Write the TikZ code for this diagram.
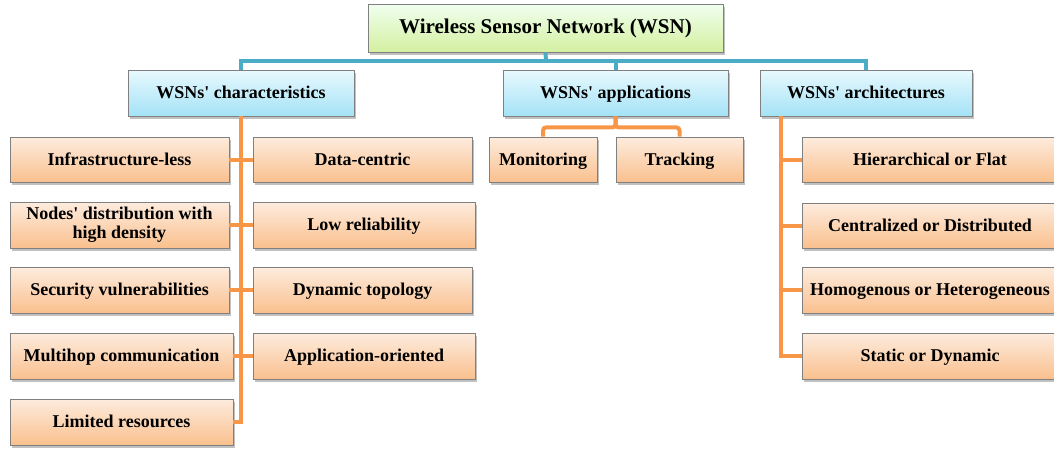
\documentclass[tikz,border=0pt]{standalone}
\usepackage{fontspec}
\setmainfont{Liberation Serif}[Ligatures=TeXOff]
\usetikzlibrary{shadows,calc}
\definecolor{bline}{HTML}{4BACC6}
\definecolor{oline}{HTML}{F79646}
\definecolor{bord}{HTML}{808080}
\tikzset{
  box/.style={draw=bord, line width=0.9pt, inner sep=0pt, align=center,
    text height=15pt, text depth=4pt,
    font=\bfseries\fontsize{18}{19}\selectfont,
    drop shadow={shadow xshift=1.5pt, shadow yshift=-2.5pt, opacity=0.35, fill=black!70}},
  topbox/.style={box, top color=green!6!white, bottom color={rgb,255:red,212;green,240;blue,160},
    font=\bfseries\fontsize{21}{22}\selectfont},
  bbox/.style={box, top color={rgb,255:red,232;green,249;blue,254}, bottom color={rgb,255:red,164;green,226;blue,246}},
  obox/.style={box, top color={rgb,255:red,253;green,236;blue,222}, bottom color={rgb,255:red,250;green,192;blue,142}},
  oboxtwo/.style={obox, text height={}, text depth={}},
  bcon/.style={draw=bline, line width=4pt},
  ocon/.style={draw=oline, line width=4pt},
}
\newcommand{\bx}[7]{% style, name, x1, y1, x2, y2, text
  \node[#1, minimum width={(#5-#3)*1pt}, minimum height={(#6-#4)*1pt}] (#2) at ({(#3+#5)/2},{(#4+#6)/2}) {#7};}
\begin{document}
\begin{tikzpicture}[x=1pt,y=-1pt]
\useasboundingbox (0,0) rectangle (1054,448);
\clip (0,0) rectangle (1054,448);
\coordinate (bus) at (546,61);
\coordinate (as) at (781,116);
% boxes
\bx{topbox}{top}{368}{4}{723}{52}{Wireless Sensor Network (WSN)}
\bx{bbox}{char}{128}{70}{354}{116}{WSNs' characteristics}
\bx{bbox}{app}{503}{70}{728}{116}{WSNs' applications}
\bx{bbox}{arch}{760}{70}{972}{116}{WSNs' architectures}
\bx{obox}{infra}{10}{137}{229}{182}{Infrastructure-less}
\bx{obox}{data}{253}{137}{472}{182}{Data-centric}
\bx{oboxtwo}{nodes}{10}{202}{229}{248}{Nodes' distribution with\\high density}
\bx{obox}{low}{253}{202}{475}{248}{Low reliability}
\bx{obox}{sec}{10}{267}{229}{313}{Security vulnerabilities}
\bx{obox}{dyn}{253}{267}{472}{313}{Dynamic topology}
\bx{obox}{multi}{10}{333}{233}{379}{Multihop communication}
\bx{obox}{aor}{253}{333}{475}{379}{Application-oriented}
\bx{obox}{lim}{10}{399}{233}{445}{Limited resources}
\bx{obox}{mon}{489}{137}{597}{182}{Monitoring}
\bx{obox}{track}{616}{137}{743}{182}{Tracking}
\bx{obox}{hier}{802}{137}{1058}{182}{Hierarchical or Flat}
\bx{obox}{cent}{802}{203}{1058}{248}{Centralized or Distributed}
\bx{obox}{homo}{802}{267}{1058}{313}{Homogenous or Heterogeneous}
\bx{obox}{stat}{802}{333}{1058}{379}{Static or Dynamic}
% blue connectors
\draw[bcon] (top.south) -- (bus);
\draw[bcon] (char.north) |- (bus) -| (arch.north);
\draw[bcon] (app.north) -- (app.north |- bus);
% characteristics spine
\draw[ocon] (char.south) |- (lim.east);
\foreach \n in {infra,nodes,sec,multi} \draw[ocon] (\n.east) -- (\n.east -| char.south);
\foreach \n in {data,low,dyn,aor} \draw[ocon] (\n.west) -- (\n.west -| char.south);
% applications
\draw[ocon, rounded corners=3pt] (app.south) -- ++(0,11) -| (mon.north);
\draw[ocon, rounded corners=3pt] (app.south) -- ++(0,11) -| (track.north);
% architectures
\draw[ocon] (as) |- (stat.west);
\foreach \n in {hier,cent,homo} \draw[ocon] (\n.west) -- (\n.west -| as);
\end{tikzpicture}
\end{document}
